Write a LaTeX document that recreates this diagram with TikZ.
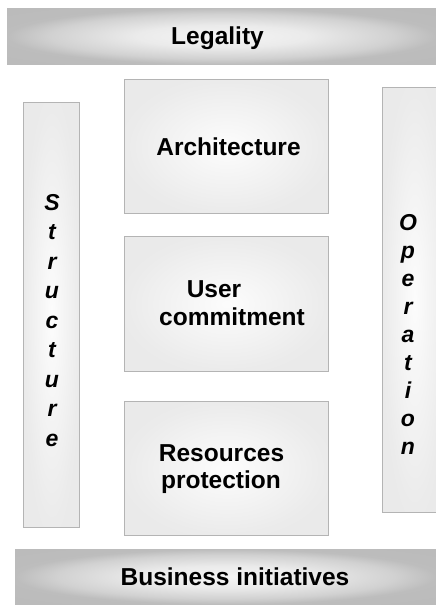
\documentclass[tikz,border=0pt]{standalone}
\usepackage{fontspec}
\setmainfont{Liberation Sans}
\definecolor{edgegray}{HTML}{B4B4B4}
\pgfdeclareradialshading{barshade}{\pgfpoint{0bp}{0bp}}{color(0bp)=(white!96!black); color(10bp)=(white!92!black); color(20bp)=(white!82!black); color(25bp)=(white!74!black); color(50bp)=(white!72!black)}
\pgfdeclareradialshading{boxshade}{\pgfpoint{0bp}{0bp}}{color(0bp)=(white!99!black); color(7bp)=(white!97!black); color(25bp)=(white!92!black); color(50bp)=(white!91!black)}
\tikzset{
  bar/.style={shading=barshade, inner sep=0pt, anchor=north west},
  box/.style={draw=edgegray, line width=1.2pt, shading=boxshade, inner sep=0pt, anchor=north west},
  lbl/.style={font=\fontsize{24.5}{28}\selectfont\bfseries, inner sep=0pt, anchor=base},
  vlet/.style={font=\fontsize{23}{26}\selectfont\bfseries\itshape, inner sep=0pt, anchor=base}
}
\begin{document}
\begin{tikzpicture}[x=1pt,y=-1pt]
\clip (0,0) rectangle (436,605);
\fill[white] (0,0) rectangle (436,605);
% horizontal bars
\node[bar, minimum width=429, minimum height=56] (legal) at (7,8) {};
\node[bar, minimum width=421, minimum height=55] (business) at (15,549) {};
% vertical bars
\node[box, minimum width=56, minimum height=425] (struct) at (23,102) {};
\node[box, minimum width=64, minimum height=425] (oper) at (382,87) {};
% central boxes
\node[box, minimum width=204, minimum height=134] (arch) at (124,79) {};
\node[box, minimum width=204, minimum height=135] (user) at (124,236) {};
\node[box, minimum width=204, minimum height=134] (res) at (124,401) {};
% labels
\node[lbl] (tlegal) at (217.5,44.5) {Legality};
\node[lbl] (tarch) at (228.5,155) {Architecture};
\node[lbl] (tuser1) at (214,297.3) {User};
\node[lbl] (tuser2) at (232,325) {commitment};
\node[lbl] (tres1) at (221.5,461.7) {Resources};
\node[lbl] (tres2) at (221,488.3) {protection};
\node[lbl] (tbus) at (235,585) {Business initiatives};
% vertical words
\foreach \c [count=\i from 0] in {S,t,r,u,c,t,u,r,e}
  \node[vlet] (s\i) at (52,210+29.5*\i) {\c};
\foreach \c [count=\i from 0] in {O,p,e,r,a,t,i,o,n}
  \node[vlet] (o\i) at (408,230+28*\i) {\c};
\end{tikzpicture}
\end{document}
